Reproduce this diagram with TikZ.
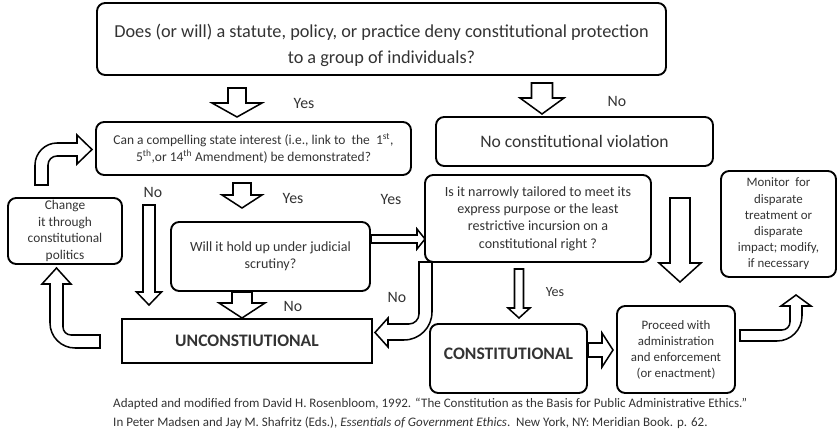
\documentclass[tikz,border=0pt]{standalone}
\usepackage{fontspec}
\setmainfont{Carlito}
\usetikzlibrary{calc}

\tikzset{
  box/.style={draw=black, line width=1.6pt, rounded corners=7pt, inner sep=0pt, align=center, text=black!80},
  sqbox/.style={box, sharp corners},
  sz/.style 2 args={minimum width=#1*0.03cm, minimum height=#2*0.03cm},
  blk/.style={draw=black, fill=white, line width=1.3pt, line join=miter},
  lbl/.style={text=black!80, font=\fontsize{13.5}{16}\selectfont},
}

% hollow block arrows, tail -> tip, half shaft, half head, head length
\newcommand\blkdown[5]{%
  \draw[blk] ($(#1)+(-#3,0)$) |- ($(#2)+(-#4,-#5)$) -- (#2) -- ($(#2)+(#4,-#5)$) -| ($(#1)+(#3,0)$) -- cycle;}
\newcommand\blkright[5]{%
  \draw[blk] ($(#1)+(0,-#3)$) -| ($(#2)+(-#5,-#4)$) -- (#2) -- ($(#2)+(-#5,#4)$) |- ($(#1)+(0,#3)$) -- cycle;}

\begin{document}
\begin{tikzpicture}[x=0.03cm, y=-0.03cm, line cap=round]
	\useasboundingbox (0,0) rectangle (838,432);

	%Boxes
	\node[box, sz={569}{72}, label={[align=center, text=black!80, font=\fontsize{15.6}{22}\selectfont, yshift=-0.2cm]center:{Does (or will) a statute, policy, or practice deny constitutional protection\\to a group of individuals?}}] (deny) at (381.5,39) {};
	\node[box, sz={315}{53}, font=\fontsize{11.5}{14.5}\selectfont] (state) at (253.5,148.5)
	  {Can a compelling state interest (i.e., link to~~the~~1\textsuperscript{st},\\5\textsuperscript{th},or 14\textsuperscript{th} Amendment) be demonstrated?};
	\node[box, sz={277}{49}, font=\fontsize{15}{17}\selectfont] (noviol) at (574.5,141.5)
	  {No constitutional violation};
	\node[box, sz={114}{66}, font=\fontsize{11.4}{14}\selectfont] (change) at (65,231)
	  {Change\\it through\\constitutional\\politics};
	\node[box, sz={199}{69}, font=\fontsize{12}{14.5}\selectfont] (hold) at (270.5,256.5)
	  {Will it hold up under judicial\\scrutiny?};
	\node[box, sz={226}{87}, font=\fontsize{12}{14.8}\selectfont] (tailor) at (538,218.5)
	  {Is it narrowly tailored to meet its\\express purpose or the least\\restrictive incursion on a\\constitutional right ?};
	\node[box, sz={115}{106}, font=\fontsize{11}{13.8}\selectfont] (monitor) at (778.5,224)
	  {Monitor~~for\\disparate\\treatment or\\disparate\\impact; modify,\\if necessary};
	\node[sqbox, sz={250}{44}, font=\fontsize{15}{17}\selectfont\bfseries] (uncon) at (247,341)
	  {UNCONSTIUTIONAL};
	\node[box, sz={157}{69}, label={[text=black!80, font=\fontsize{15}{17}\selectfont\bfseries, yshift=0.15cm]center:CONSTITUTIONAL}] (con) at (508.5,358.5) {};
	\node[box, sz={118}{87}, font=\fontsize{11}{13.7}\selectfont] (proceed) at (676,349.5)
	  {Proceed with\\administration\\and enforcement\\(or enactment)};

	%Arrow ends
	\coordinate (yes1a) at (237,88);   \coordinate (yes1b) at (237,117);
	\coordinate (no1a) at (542,83);    \coordinate (no1b) at (542,114);
	\coordinate (yes2a) at (242,183);  \coordinate (yes2b) at (242,208);
	\coordinate (no2a) at (149,205);   \coordinate (no2b) at (149,305);
	\coordinate (no3a) at (242,292);   \coordinate (no3b) at (242,318);
	\coordinate (yes3a) at (371,239);  \coordinate (yes3b) at (425,239);
	\coordinate (downa) at (680,198);  \coordinate (downb) at (680,282);
	\coordinate (yes4a) at (519,269);  \coordinate (yes4b) at (519,318);
	\coordinate (goa) at (588,350);    \coordinate (gob) at (613,350);

	%Straight arrows
	\blkdown{yes1a}{yes1b}{9}{25}{14}
	\blkdown{no1a}{no1b}{10.5}{22}{16}
	\blkdown{yes2a}{yes2b}{9}{20}{13}
	\blkdown{no2a}{no2b}{6}{12.5}{13}
	\blkdown{no3a}{no3b}{10}{23}{15}
	\blkright{yes3a}{yes3b}{4}{10}{8}
	\blkdown{downa}{downb}{10}{21}{19}
	\blkdown{yes4a}{yes4b}{4.5}{11}{10}
	\blkright{goa}{gob}{7}{17}{11}

	%Bent arrows
	\draw[blk] (35,185) -- (35,165) .. controls (35,153) and (45,143) .. (57,143) -- (77,143) -- (77,135)
	  -- (92,149.5) -- (77,164) -- (77,156) -- (57,156) .. controls (52,156) and (48,160) .. (48,165) -- (48,185) -- cycle;
	\draw[blk] (100,348) -- (75,348) .. controls (61.2,348) and (50,336.8) .. (50,323) -- (50,284) -- (42,284)
	  -- (56.5,268) -- (71,284) -- (63,284) -- (63,327) .. controls (63,331.4) and (66.6,335) .. (71,335) -- (100,335) -- cycle;
	\draw[blk] (740,341) -- (777,341) .. controls (790.8,341) and (802,329.8) .. (802,316) -- (802,306) -- (811,306)
	  -- (796,295) -- (781,306) -- (790,306) -- (790,322) .. controls (790,326.4) and (786.4,330) .. (782,330) -- (740,330) -- cycle;
	\draw[blk] (432,262) -- (432,312) .. controls (432,327.5) and (419.5,340) .. (404,340) -- (388,340) -- (388,347)
	  -- (375,332.5) -- (388,318) -- (388,324) -- (409,324) .. controls (414.5,324) and (419,319.5) .. (419,314) -- (419,262) -- cycle;

	%Labels
	\node[lbl] (lyes1) at (304,103) {Yes};
	\node[lbl] (lno1) at (617,101) {No};
	\node[lbl] (lyes2) at (293,198) {Yes};
	\node[lbl] (lyes3) at (391,199) {Yes};
	\node[lbl] (lno2) at (153,192) {No};
	\node[lbl] (lno3) at (293,306) {No};
	\node[lbl] (lno4) at (397,297) {No};
	\node[lbl, font=\fontsize{12}{14}\selectfont] (lyes4) at (555,292) {Yes};

	%Source
	\node[anchor=north west, align=left, inner sep=0pt, text=black!80, font=\fontsize{11.1}{16.2}\selectfont] (src) at (113,398)
	  {Adapted and modified from David H. Rosenbloom, 1992. “The Constitution as the Basis for Public Administrative Ethics.”\\
	   In Peter Madsen and Jay M. Shafritz (Eds.), \textit{Essentials of Government Ethics}.~~New York, NY: Meridian Book. p. 62.};
\end{tikzpicture}
\end{document}
